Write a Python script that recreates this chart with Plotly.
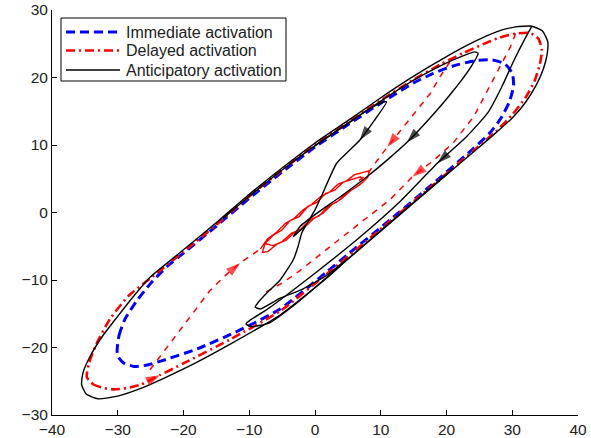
import plotly.graph_objects as go

# ---- axis ticks -------------------------------------------------------------
x_ticks = [-40, -30, -20, -10, 0, 10, 20, 30, 40]
x_tick_labels = ["\u221240", "\u221230", "\u221220", "\u221210", "0", "10", "20", "30", "40"]
y_ticks = [-30, -20, -10, 0, 10, 20, 30]
y_tick_labels = ["\u221230", "\u221220", "\u221210", "0", "10", "20", "30"]

series_names = ["Immediate activation", "Delayed activation", "Anticipatory activation"]

# ---- immediate activation (closed limit cycle) -----------------------------
immediate_x = [-30.1, -29.8, -28.9, -27.2, -25.0, -22.5, -20.1, -15.0, -10.0, -5.0, 0.0, 5.0,
               10.0, 15.0, 18.0, 21.0, 24.4, 27.0, 28.9, 30.0, 30.2, 29.6, 28.3, 26.6, 24.0,
               17.5, 11.4, 5.0, 1.8, -5.3, -11.4, -17.9, -23.1, -25.5, -27.5, -29.1, -30.0, -30.1]
immediate_y = [-20.4, -18.2, -15.8, -13.2, -10.5, -8.0, -6.1, -2.0, 2.1, 6.0, 9.7, 13.0,
               16.2, 19.2, 20.6, 21.7, 22.5, 22.6, 22.0, 20.6, 18.8, 16.5, 14.0, 11.8, 9.4,
               3.9, -1.1, -6.2, -8.8, -14.3, -17.4, -20.2, -21.9, -22.6, -22.8, -22.3, -21.3, -20.4]

# ---- delayed activation: outer cycle (lower edge left->right, upper edge back) --
delayed_outer_x = [-34.7, -33.8, -32.2, -30.5, -28.6, -26.5, -23.6, -20.1, -12.9, -5.3, 1.8, 11.4,
                   17.5, 21.0, 24.5, 27.5, 30.0, 32.0, 33.4, 34.2, 34.5, 34.0, 32.7, 30.5, 28.0,
                   25.5, 22.5, 19.0, 15.0, 10.0, 5.0, 0.0, -5.0, -10.0, -15.0, -20.1, -25.1,
                   -28.3, -31.2, -33.3, -34.4, -34.7]
delayed_outer_y = [-24.4, -25.4, -26.0, -26.2, -26.0, -25.5, -24.1, -22.4, -18.8, -14.6, -9.1, -1.3,
                   3.7, 6.6, 9.5, 12.0, 14.5, 17.0, 19.5, 22.0, 24.0, 25.7, 26.6, 26.5, 25.9,
                   24.9, 23.6, 21.9, 19.7, 16.6, 13.3, 10.0, 6.3, 2.4, -1.8, -5.9, -9.8,
                   -12.3, -15.8, -19.6, -22.4, -24.4]

# ---- delayed activation: transient branches and the small final cycle --------
delayed_in1_x = [30.5, 29.7, 27.7, 25.9, 24.2, 21.0, 17.9, 14.8, 11.4, 6.8, 2.3, -2.3, -4.9, -7.9]
delayed_in1_y = [26.5, 24.5, 20.8, 17.4, 14.3, 10.3, 7.6, 5.3, 1.9, -1.6, -5.1, -8.6, -10.4, -12.0]

delayed_in2_x = [-25.1, -22.0, -19.0, -16.0, -13.5, -11.4, -8.3]
delayed_in2_y = [-23.3, -19.3, -15.5, -11.6, -9.2, -7.5, -5.4]

delayed_in3_x = [20.5, 19.0, 17.5, 15.5, 13.2, 11.0, 9.3, 7.9, 6.5]
delayed_in3_y = [22.3, 20.1, 17.6, 15.2, 12.4, 9.7, 7.5, 5.6, 4.6]

delayed_small_x = [-8.3, -7.2, -5.8, -4.5, -3.2, -1.8, -0.5, 0.9, 2.2, 3.5, 4.8, 6.0, 7.2, 8.3,
                   8.0, 6.8, 5.5, 4.0, 2.6, 1.2, -0.2, -1.6, -3.0, -4.4, -5.8, -7.2, -8.0, -7.6,
                   -6.4, -5.0, -3.8, -2.4, -1.1, 0.3, 1.6, 3.0, 4.3, 5.6, 6.9, 7.4,
                   6.2, 4.8, 3.4, 2.0, 0.6, -0.8, -2.2, -3.6, -5.0, -6.4, -7.6]
delayed_small_y = [-5.4, -3.9, -2.9, -1.6, -0.9, 0.4, 1.2, 2.4, 3.0, 4.2, 4.7, 5.6, 5.9, 6.2,
                   5.2, 4.1, 3.3, 2.0, 1.2, -0.1, -0.9, -2.2, -2.9, -4.1, -4.7, -5.8, -5.9, -4.6,
                   -3.4, -2.6, -1.2, -0.6, 0.9, 1.5, 2.8, 3.3, 4.5, 4.9, 5.3, 4.6,
                   3.7, 2.9, 1.6, 0.9, -0.5, -1.1, -2.5, -3.1, -4.3, -4.9, -4.6]

# ---- anticipatory activation -------------------------------------------------
antic_outer_x = [33.0, 34.6, 35.4, 35.3, 34.7, 33.6, 32.0, 30.0, 27.5, 24.5, 21.0, 17.5, 11.4,
                 5.0, 1.8, -5.3, -12.9, -18.0, -23.1, -26.6, -30.0, -33.0, -34.8, -35.5, -35.3,
                 -34.2, -32.3, -30.1, -27.5, -25.1, -20.1, -15.0, -10.0, -5.0, 0.0, 5.0, 10.0,
                 15.0, 20.0, 24.0, 27.7, 30.5, 33.0]
antic_outer_y = [27.6, 26.9, 25.3, 23.4, 21.2, 18.8, 16.3, 14.0, 11.8, 9.3, 6.4, 3.5, -1.6,
                 -6.9, -9.7, -15.2, -19.5, -22.2, -24.6, -26.1, -27.2, -27.6, -26.9, -25.5, -23.8,
                 -21.3, -18.3, -15.5, -12.3, -9.6, -5.6, -1.5, 2.7, 6.6, 10.3, 13.6, 17.0,
                 20.2, 23.1, 25.2, 26.8, 27.5, 27.6]

antic_c_x = [33.0, 31.8, 30.2, 28.4, 26.3, 23.0, 18.6, 12.9, 6.4, 0.0, -4.0, -7.5, -9.8, -10.5,
             -9.8, -7.0, -3.0, 1.8, 11.4, 17.5, 21.0]
antic_c_y = [27.6, 25.5, 22.4, 18.6, 14.8, 11.2, 7.3, 1.6, -4.0, -9.0, -12.0, -14.5, -15.9, -16.5,
             -16.9, -16.4, -13.6, -9.6, -1.5, 3.6, 6.5]

antic_b_x = [0.0, 5.0, 10.0, 15.0, 19.0, 22.5, 24.3, 24.8, 23.6, 20.5, 17.5, 14.0, 11.0, 7.9,
             3.8, 0.3, -2.3, -3.3, -2.3, -1.4]
antic_b_y = [9.9, 13.2, 16.5, 19.6, 21.7, 23.2, 23.8, 23.6, 21.4, 17.4, 14.0, 10.4, 7.8, 5.3,
             2.3, -0.1, -2.1, -3.6, -2.7, -1.9]

antic_a_x = [-14.0, -10.0, -5.0, 0.0, 5.0, 8.0, 10.2, 10.9, 9.0, 6.8, 3.3, 1.2, 0.0, -1.2, -2.0,
             -2.6, -3.3, -5.3, -7.3, -8.7, -9.1, -8.3, -5.3, -1.8, 1.8, 5.0]
antic_a_y = [-0.9, 2.4, 6.3, 9.9, 13.2, 15.2, 16.3, 16.4, 13.6, 10.7, 7.3, 2.9, 0.4, -1.6, -3.0,
             -5.1, -7.0, -10.0, -11.9, -13.4, -14.0, -14.3, -12.7, -11.3, -9.3, -6.8]

# arrow positions on the trajectories (direction follows the path order)
black_arrow_x = [6.8, 14.0, 18.6]
black_arrow_y = [10.7, 10.4, 7.3]
red_arrow_x = [11.0, 14.8, -11.4, -23.6]
red_arrow_y = [9.7, 5.3, -7.5, -24.1]

BLUE = "#0000ff"
RED = "#ff0000"
BLACK = "#000000"
FONT = "Liberation Sans, Arial, Helvetica, sans-serif"

BLUE_LINE = dict(color=BLUE, width=3, dash="9px,5px")
RED_LINE = dict(color=RED, width=2.6, dash="9px,4px,2px,4px")
BLACK_LINE = dict(color=BLACK, width=1.4)


def join(*parts):
    xs, ys = [], []
    for px, py in parts:
        if xs:
            xs.append(None)
            ys.append(None)
        xs.extend(px)
        ys.extend(py)
    return xs, ys


def arrow_traces(ax, ay, paths, color):
    """Arrowheads placed on a path vertex, oriented from the preceding vertex."""
    traces = []
    for x0, y0 in zip(ax, ay):
        best = None
        for px, py in paths:
            for i in range(1, len(px)):
                d = (px[i] - x0) ** 2 + (py[i] - y0) ** 2
                if best is None or d < best[0]:
                    best = (d, px[i - 1], py[i - 1])
        _, xp, yp = best
        traces.append(go.Scatter(
            x=[xp, x0], y=[yp, y0], mode="markers", showlegend=False, hoverinfo="skip",
            marker=dict(symbol="arrow", angleref="previous", size=[0, 15],
                        color=color, line=dict(width=0)),
        ))
    return traces


fig = go.Figure()

fig.add_trace(go.Scatter(
    x=immediate_x, y=immediate_y, mode="lines", name=series_names[0],
    line=dict(**BLUE_LINE, shape="spline", smoothing=0.6),
))
fig.add_trace(go.Scatter(
    x=delayed_outer_x, y=delayed_outer_y, mode="lines", name=series_names[1],
    line=dict(**RED_LINE, shape="spline", smoothing=0.6),
))
dx, dy = join((delayed_in1_x, delayed_in1_y), (delayed_in2_x, delayed_in2_y),
              (delayed_in3_x, delayed_in3_y))
fig.add_trace(go.Scatter(
    x=dx, y=dy, mode="lines", hoverinfo="skip",
    line=dict(color=RED, width=1.5, dash="6px,6px"),
))
fig.add_trace(go.Scatter(
    x=delayed_small_x, y=delayed_small_y, mode="lines", hoverinfo="skip",
    line=dict(color=RED, width=1.4),
))
fig.add_trace(go.Scatter(
    x=antic_outer_x, y=antic_outer_y, mode="lines", name=series_names[2],
    line=dict(**BLACK_LINE, shape="spline", smoothing=0.5),
))
bx, by = join((antic_c_x, antic_c_y), (antic_b_x, antic_b_y), (antic_a_x, antic_a_y))
fig.add_trace(go.Scatter(
    x=bx, y=by, mode="lines", hoverinfo="skip",
    line=dict(**BLACK_LINE, shape="spline", smoothing=0.5),
))

for t in arrow_traces(black_arrow_x, black_arrow_y,
                      [(antic_a_x, antic_a_y), (antic_b_x, antic_b_y), (antic_c_x, antic_c_y)], BLACK):
    fig.add_trace(t)
for t in arrow_traces(red_arrow_x, red_arrow_y,
                      [(delayed_in3_x, delayed_in3_y), (delayed_in1_x, delayed_in1_y),
                       (delayed_in2_x, delayed_in2_y), (delayed_outer_x, delayed_outer_y)], RED):
    fig.add_trace(t)

axis_common = dict(
    showgrid=False, zeroline=False, showline=True, linecolor="black", linewidth=1,
    ticks="inside", ticklen=5, tickwidth=1, tickcolor="black", mirror=False,
    automargin=False,
    tickfont=dict(family=FONT, size=15.5, color="#222222"),
)
fig.update_xaxes(range=[-40, 40], tickvals=x_ticks, ticktext=x_tick_labels, **axis_common)
fig.update_yaxes(range=[-30, 30], tickvals=y_ticks, ticktext=y_tick_labels, **axis_common)

# ---- boxed legend in the upper-left corner (pixel layout -> paper coords) ----
W, H = 591, 438
ML, MR, MT, MB = 52, 13, 10, 23
PW, PH = W - ML - MR, H - MT - MB


def px(x):
    return (x - ML) / PW


def py(y):
    return (H - MB - y) / PH


shapes = [dict(type="rect", xref="paper", yref="paper",
               x0=px(61), x1=px(286), y0=py(81), y1=py(18),
               line=dict(color="black", width=1), fillcolor="white", layer="above")]
annotations = []
row_y = [32, 50.5, 70]
for name, style, ry in zip(series_names, [BLUE_LINE, RED_LINE, BLACK_LINE], row_y):
    shapes.append(dict(type="line", xref="paper", yref="paper",
                       x0=px(66), x1=px(120), y0=py(ry), y1=py(ry),
                       line=style, layer="above"))
    annotations.append(dict(xref="paper", yref="paper", x=px(124), y=py(ry + 0.5),
                            xanchor="left", yanchor="middle", showarrow=False, text=name,
                            font=dict(family=FONT, size=16, color="#222222")))

fig.update_layout(
    width=W, height=H,
    margin=dict(l=ML, r=MR, t=MT, b=MB, pad=0),
    paper_bgcolor="white", plot_bgcolor="white",
    showlegend=False,
    shapes=shapes,
    annotations=annotations,
)

fig.write_html("out.html")
